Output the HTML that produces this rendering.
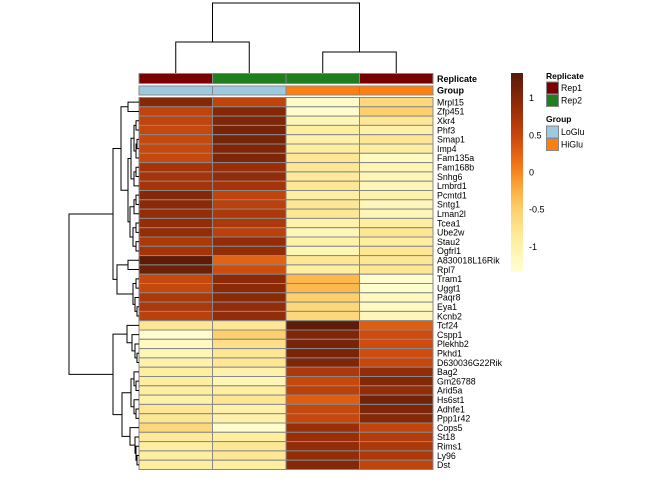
<!DOCTYPE html>
<html><head><meta charset="utf-8"><style>
body{margin:0;background:#fff}
svg{font-family:"Liberation Sans",sans-serif}
</style></head><body>
<svg id="c" width="672" height="480"></svg>
<script>
const genes=["Mrpl15","Zfp451","Xkr4","Phf3","Smap1","Imp4","Fam135a","Fam168b","Snhg6","Lmbrd1","Pcmtd1","Sntg1","Lman2l","Tcea1","Ube2w","Stau2","Ogfrl1","A830018L16Rik","Rpl7","Tram1","Uggt1","Paqr8","Eya1","Kcnb2","Tcf24","Cspp1","Plekhb2","Pkhd1","D630036G22Rik","Bag2","Gm26788","Arid5a","Hs6st1","Adhfe1","Ppp1r42","Cops5","St18","Rims1","Ly96","Dst"];
const sample1=[1.0,0.55,0.55,0.5,0.5,0.5,0.5,0.75,0.75,0.75,1.0,0.95,0.9,0.9,0.9,0.7,0.75,1.3,1.2,0.5,0.5,0.7,0.7,0.6,-0.8,-1.3,-1.2,-1.1,-1.0,-0.9,-0.9,-0.9,-1.0,-0.8,-0.8,-0.6,-0.85,-0.9,-0.9,-0.9];
const sample2=[0.55,1.0,1.05,1.1,1.1,1.05,1.05,0.85,0.9,0.75,0.55,0.6,0.7,0.7,0.6,0.9,0.9,0.25,0.45,0.95,0.95,0.95,0.9,0.9,-0.8,-0.5,-0.7,-0.8,-0.8,-1.0,-1.1,-0.9,-0.8,-1.0,-1.0,-1.3,-0.9,-0.8,-0.8,-0.9];
const sample3=[-1.25,-1.3,-1.1,-0.9,-1.0,-0.9,-0.8,-0.8,-0.85,-0.8,-0.9,-0.8,-0.8,-1.0,-1.1,-1.0,-1.1,-0.8,-0.9,-0.3,-0.3,-0.5,-0.6,-0.6,1.3,1.05,1.1,1.1,1.05,0.7,0.5,0.6,0.3,0.5,0.5,0.85,0.85,0.9,0.9,1.0];
const sample4=[-0.6,-0.5,-0.8,-1.0,-0.8,-0.9,-1.2,-1.1,-1.1,-1.1,-1.0,-1.1,-1.1,-0.9,-0.8,-0.9,-0.8,-0.8,-0.8,-1.3,-1.3,-1.2,-1.2,-1.1,0.3,0.45,0.45,0.45,0.5,0.9,1.0,0.9,1.15,1.05,1.0,0.55,0.65,0.7,0.7,0.55];
const columns=[sample1,sample2,sample3,sample4];
const replicate=["Rep1","Rep2","Rep2","Rep1"];
const group=["LoGlu","LoGlu","HiGlu","HiGlu"];
const colorTicks=[1,0.5,0,-0.5,-1];
const rowTree=[70,[26,[18,[11,0,1],[11,[8,[5,[3,2,3],[3,[2,4,5],6]],[5,[3,7,8],9]],[9,[5,[3,10,11],12],[6,[3,13,14],[3,15,16]]]]],[22,[11,17,18],[6,[3,19,20],[4,21,[2,22,23]]]]],[26,[12,24,[7,25,[4,26,[2,27,28]]]],[17,[8,[5,29,[3,30,31]],[5,32,[3,33,34]]],[9,35,[4,36,[3,37,[2,38,39]]]]]]];
const colTree=[70,[31,0,1],[21,2,3]];

const S="http://www.w3.org/2000/svg",svg=document.getElementById('c');
function el(t,a,p){const e=document.createElementNS(S,t);for(const k in a)e.setAttribute(k,a[k]);(p||svg).appendChild(e);return e;}
const X0=139,CW=73.5,Y0=97.5,RH=9.3,VMIN=-1.34,VMAX=1.34;
const xs=i=>X0+i*CW, ys=i=>Y0+i*RH;
const stops=[[-1.34,[255,255,210]],[-0.9,[254,238,160]],[-0.5,[253,208,110]],[-0.2,[252,170,60]],[0.05,[245,125,25]],[0.4,[212,80,15]],[0.8,[160,48,8]],[1.34,[88,26,8]]];
function col(v){v=Math.max(VMIN,Math.min(VMAX,v));for(let i=0;i<stops.length-1;i++){const[a,ca]=stops[i],[b,cb]=stops[i+1];if(v<=b){const t=(v-a)/(b-a);return 'rgb('+ca.map((c,j)=>Math.round(c+(cb[j]-c)*t)).join(',')+')';}}return 'rgb(88,26,8)';}
const repCol={Rep1:"#780000",Rep2:"#1f7f1f"},grpCol={LoGlu:"#9ecae1",HiGlu:"#ff7f0e"};
// cells
const gCells=el('g',{});
columns.forEach((c,j)=>c.forEach((v,i)=>{const r=el('rect',{x:xs(j),y:ys(i),width:CW,height:RH,fill:col(v),stroke:'#888','stroke-width':1},gCells);

}));
// annotations
replicate.forEach((r,j)=>{const e=el('rect',{x:xs(j),y:73.5,width:CW,height:10,fill:repCol[r],stroke:'#888'});

});
group.forEach((g,j)=>{const e=el('rect',{x:xs(j),y:86,width:CW,height:9,fill:grpCol[g],stroke:'#888'});

});
let t=el('text',{x:437,y:82,'font-size':9,'font-weight':'bold'});t.textContent='Replicate';
t=el('text',{x:437,y:93.5,'font-size':9,'font-weight':'bold'});t.textContent='Group';
genes.forEach((g,i)=>{const e=el('text',{x:437,y:ys(i)+RH/2+3.2,'font-size':8.8});e.textContent=g;

});
// row dendrogram
function rowDen(n){if(typeof n==='number')return {y:ys(n)+RH/2,x:X0};const a=rowDen(n[1]),b=rowDen(n[2]),x=X0-n[0];
const p=el('path',{d:`M${a.x},${a.y}H${x}V${b.y}H${b.x}`,fill:'none',stroke:'#000','stroke-width':1});


return {x:x,y:(a.y+b.y)/2};}
rowDen(rowTree);
function colDen(n){if(typeof n==='number')return {x:xs(n)+CW/2,y:73};const a=colDen(n[1]),b=colDen(n[2]),y=73-n[0];
const p=el('path',{d:`M${a.x},${a.y}V${y}H${b.x}V${b.y}`,fill:'none',stroke:'#000','stroke-width':1});


return {x:(a.x+b.x)/2,y:y};}
colDen(colTree);
// colorbar
const CBT=73,CBB=272,cy=v=>CBT+(VMAX-v)/(VMAX-VMIN)*(CBB-CBT);
const defs=el('defs',{}),lg=el('linearGradient',{id:'cg',x1:0,y1:1,x2:0,y2:0},defs);
for(let k=0;k<=20;k++){const v=VMIN+(VMAX-VMIN)*k/20;el('stop',{offset:k/20,'stop-color':col(v)},lg);}
const cb=el('rect',{x:511,y:CBT,width:12,height:CBB-CBT,fill:'url(#cg)'});
colorTicks.forEach(v=>{const e=el('text',{x:529,y:cy(v)+3,'font-size':9});e.textContent=String(v);

});
// legends
function legTitle(s,y){const e=el('text',{x:546,y:y,'font-size':8.5,'font-weight':'bold'});e.textContent=s;}
function legItem(s,c,y){const r=el('rect',{x:546.5,y:y,width:12,height:12,fill:c,stroke:'#888','stroke-width':1});
const e=el('text',{x:561,y:y+9,'font-size':8.8});e.textContent=s;}
legTitle('Replicate',79);legItem('Rep1',repCol.Rep1,82);legItem('Rep2',repCol.Rep2,94.5);
legTitle('Group',122);legItem('LoGlu',grpCol.LoGlu,126);legItem('HiGlu',grpCol.HiGlu,138.5);
</script>
</body></html>
